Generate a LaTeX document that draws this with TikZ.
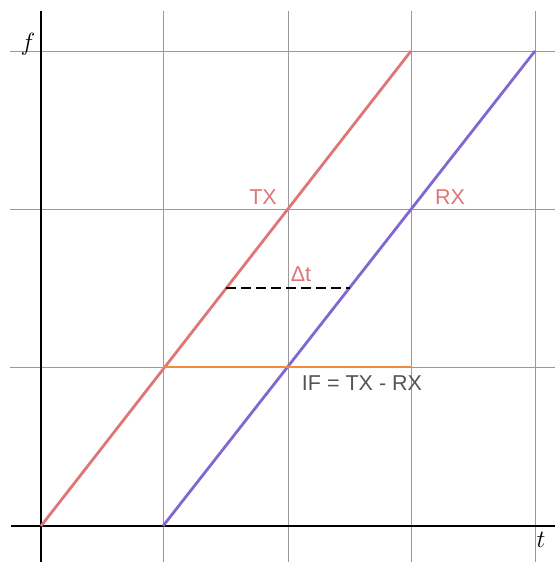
\documentclass[tikz,border=0pt]{standalone}
\usepackage{fontspec}
\setmainfont{Liberation Sans}
\definecolor{txcol}{HTML}{E07575}
\definecolor{rxcol}{HTML}{8068D0}
\definecolor{ifcol}{HTML}{F08C3C}
\definecolor{gridcol}{HTML}{9A9A9A}
\definecolor{labgray}{HTML}{555555}
\begin{document}
\begin{tikzpicture}[x=1pt,y=-1pt,
  gridline/.style={gridcol,line width=1pt},
  axisline/.style={black,line width=2.4pt},
  sweep/.style={line width=2.8pt},
  lab/.style={font=\fontsize{21.5}{21.5}\selectfont,inner sep=0pt},
  axlab/.style={font=\fontsize{24}{24}\selectfont,inner sep=0pt}]
\useasboundingbox (0,0) rectangle (555,562);
% grid
\foreach \x in {163,288,411,535} \draw[gridline] (\x,11) -- (\x,562);
\foreach \y in {51,209,367} \draw[gridline] (10,\y) -- (555,\y);
% axes
\draw[axisline] (41,11) -- (41,562);
\draw[axisline] (11,526) -- (555,526);
% coordinates
\coordinate (tx0) at (41,526);
\coordinate (tx1) at (411,51);
\coordinate (rx0) at (163,526);
\coordinate (rx1) at (535,51);
\coordinate (if0) at (163,367);
\coordinate (if1) at (411,367);
\coordinate (dt0) at (226,288);
\coordinate (dt1) at (350,288);
% sweeps
\draw[sweep,txcol] (tx0) -- (tx1);
\draw[sweep,rxcol] (rx0) -- (rx1);
\draw[sweep,ifcol] (if0) -- (if1);
\draw[black,line width=2.2pt,dash pattern=on 10pt off 5pt] (dt0) -- (dt1);
% labels
\node[lab,txcol] (txl) at (263,197) {TX};
\node[lab,txcol] (rxl) at (450,197) {RX};
\node[lab,txcol] (dtl) at (301,274) {Δt};
\node[lab,labgray] (ifl) at (362,383) {IF = TX - RX};
\node[axlab] (fl) at (28,44) {$f$};
\node[axlab] (tl) at (541,540) {$t$};
\end{tikzpicture}
\end{document}
